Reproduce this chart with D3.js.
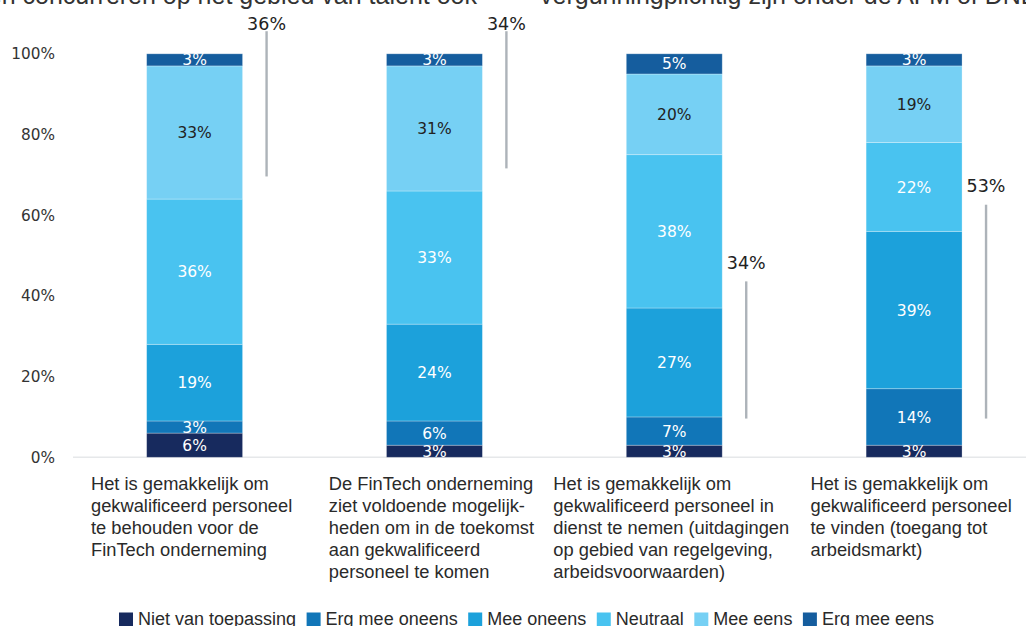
<!DOCTYPE html>
<html>
<head>
<meta charset="utf-8">
<script src="https://cdn.jsdelivr.net/npm/d3@7"></script>
<style>
  html, body { margin: 0; padding: 0; background: #ffffff; overflow: hidden; }
  svg { display: block; }
</style>
</head>
<body>
<svg id="chart" width="1026" height="626"></svg>
<script>
// ---- data ----
const categoryIds = ["behouden", "toekomst", "in dienst nemen", "vinden"];
const categoryLines = [
  ["Het is gemakkelijk om", "gekwalificeerd personeel", "te behouden voor de", "FinTech onderneming"],
  ["De FinTech onderneming", "ziet voldoende mogelijk-", "heden om in de toekomst", "aan gekwalificeerd", "personeel te komen"],
  ["Het is gemakkelijk om", "gekwalificeerd personeel in", "dienst te nemen (uitdagingen", "op gebied van regelgeving,", "arbeidsvoorwaarden)"],
  ["Het is gemakkelijk om", "gekwalificeerd personeel", "te vinden (toegang tot", "arbeidsmarkt)"]
];
const seriesNames = ["Niet van toepassing", "Erg mee oneens", "Mee oneens", "Neutraal", "Mee eens", "Erg mee eens"];
const nietVanToepassing = [6, 3, 3, 3];
const ergMeeOneens      = [3, 6, 7, 14];
const meeOneens         = [19, 24, 27, 39];
const neutraal          = [36, 33, 38, 22];
const meeEens           = [33, 31, 20, 19];
const ergMeeEens        = [3, 3, 5, 3];
const seriesValues = [nietVanToepassing, ergMeeOneens, meeOneens, neutraal, meeEens, ergMeeEens];
// which group is summarised by the grey bracket per category
const bracketGroup = ["eens", "eens", "oneens", "oneens"];
const yTicks = [0, 20, 40, 60, 80, 100];
const titleLeft = "FinTech ondernemingen concurreren op het gebied van talent ook";
const titleRight = "vergunningplichtig zijn onder de AFM of DNB";

// ---- styles ----
const colors = ["#172a5e", "#1176b8", "#1ca1db", "#49c3f0", "#76d0f4", "#155d9e"];
const labelColors = ["#ffffff", "#ffffff", "#ffffff", "#ffffff", "#222222", "#ffffff"];
const numFont = "'DejaVu Sans', Verdana, sans-serif";
const txtFont = "'Liberation Sans', Arial, sans-serif";

const svg = d3.select("#chart");

// table for stacking
const table = categoryIds.map((id, i) => {
  const row = { id };
  seriesNames.forEach((s, k) => row[s] = seriesValues[k][i]);
  return row;
});
const stacked = d3.stack().keys(seriesNames)(table);

const x = d3.scaleBand().domain(categoryIds).range([74.7, 1034]).paddingInner(0.6).paddingOuter(0.3);
const y = d3.scaleLinear().domain([0, 100]).range([457.3, 53.8]);

// title (cut off at the top in the source)
svg.append("text").attr("x", 477).attr("y", 4).attr("text-anchor", "end")
  .attr("font-family", txtFont).attr("font-size", 25).attr("fill", "#333")
  .text(titleLeft);
svg.append("text").attr("x", 540).attr("y", 4).attr("text-anchor", "start")
  .attr("font-family", txtFont).attr("font-size", 25).attr("fill", "#333")
  .text(titleRight);

// y axis (labels only)
const yAxis = d3.axisLeft(y).tickValues(yTicks).tickFormat(d => d + "%").tickSize(0).tickPadding(0);
const yg = svg.append("g").attr("transform", "translate(55,0)").call(yAxis);
yg.select(".domain").remove();
yg.selectAll("text").attr("font-family", numFont).attr("font-size", 15.3).attr("fill", "#333");

// baseline
svg.append("line")
  .attr("x1", 73).attr("x2", 1026).attr("y1", y(0)).attr("y2", y(0))
  .attr("stroke", "#e6e8ea").attr("stroke-width", 1.5);

// bars
const layers = svg.append("g").selectAll("g").data(stacked).join("g")
  .attr("fill", (d, i) => colors[i]);
layers.selectAll("rect").data(d => d.map(p => ({ p, key: d.key }))).join("rect")
  .attr("x", d => x(d.p.data.id))
  .attr("width", x.bandwidth())
  .attr("y", d => y(d.p[1]))
  .attr("height", d => y(d.p[0]) - y(d.p[1]))
  .attr("stroke", "rgba(255,255,255,0.35)").attr("stroke-width", 0.8);

// segment labels
stacked.forEach((layer, k) => {
  svg.append("g").selectAll("text").data(layer).join("text")
    .attr("x", d => x(d.data.id) + x.bandwidth() / 2)
    .attr("y", d => (y(d[0]) + y(d[1])) / 2)
    .attr("dy", "0.36em")
    .attr("text-anchor", "middle")
    .attr("font-family", numFont).attr("font-size", 15.5)
    .attr("fill", labelColors[k])
    .text(d => (d[1] - d[0]) + "%");
});

// grey brackets with totals
categoryIds.forEach((id, i) => {
  const lx = x(id) + x.bandwidth() + 24;
  let top, bottom, val;
  if (bracketGroup[i] === "eens") {
    val = meeEens[i] + ergMeeEens[i];
    top = 105.6; bottom = top - val;
  } else {
    val = ergMeeOneens[i] + meeOneens[i];
    bottom = 9.6; top = bottom + val;
  }
  svg.append("line")
    .attr("x1", lx).attr("x2", lx).attr("y1", y(top)).attr("y2", y(bottom))
    .attr("stroke", "#adb3b9").attr("stroke-width", 2.4);
  svg.append("text")
    .attr("x", lx).attr("y", Math.max(y(top) - 12.5, 29.5))
    .attr("text-anchor", "middle")
    .attr("font-family", numFont).attr("font-size", 17.5).attr("fill", "#222")
    .text(val + "%");
});

// category labels (left aligned block centred on bar)
categoryIds.forEach((id, i) => {
  const g = svg.append("g");
  const t = g.append("text").attr("font-family", txtFont).attr("font-size", 18.3).attr("fill", "#2a2a2a");
  categoryLines[i].forEach((line, j) => {
    t.append("tspan").attr("x", 0).attr("y", 489.5 + j * 22.1).text(line);
  });
  const w = t.node().getBBox().width;
  g.attr("transform", `translate(${x(id) + x.bandwidth() / 2 - w / 2 - 3},0)`);
});

// legend
const legend = svg.append("g");
let lxPos = 119;
seriesNames.forEach((s, k) => {
  legend.append("rect").attr("x", lxPos).attr("y", 612.5).attr("width", 14).attr("height", 14).attr("fill", colors[k]);
  const t = legend.append("text").attr("x", lxPos + 19).attr("y", 625)
    .attr("font-family", txtFont).attr("font-size", 18).attr("fill", "#2a2a2a").text(s);
  lxPos += 19 + t.node().getComputedTextLength() + 10.5;
});
</script>
</body>
</html>
